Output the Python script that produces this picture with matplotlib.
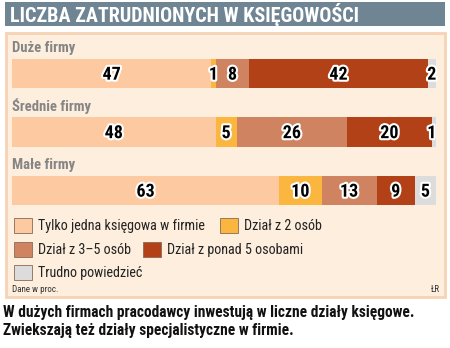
import matplotlib
matplotlib.use("Agg")
import matplotlib.pyplot as plt
import matplotlib.patheffects as pe
from matplotlib import font_manager
from matplotlib.patches import Rectangle

categories = ["Duże firmy", "Średnie firmy", "Małe firmy"]
series_names = [
    "Tylko jedna księgowa w firmie",
    "Dział z 2 osób",
    "Dział z 3–5 osób",
    "Dział z ponad 5 osobami",
    "Trudno powiedzieć",
]
values = [
    [47, 1, 8, 42, 2],
    [48, 5, 26, 20, 1],
    [63, 10, 13, 9, 5],
]
colors = ["#fcc9a0", "#fbb63f", "#cf8360", "#b24117", "#dcdcdc"]

title = "LICZBA ZATRUDNIONYCH W KSIĘGOWOŚCI"
note = "Dane w proc."
author = "ŁR"
caption = ["W dużych firmach pracodawcy inwestują w liczne działy księgowe.",
           "Zwiekszają też działy specjalistyczne w firmie."]

names = {f.name for f in font_manager.fontManager.ttflist}
font = "DejaVu Sans"
for cand in ["Liberation Sans Narrow", "Roboto Condensed", "Open Sans Condensed", "Noto Sans Condensed"]:
    if cand in names:
        font = cand
        break
plt.rcParams["font.family"] = [font, "DejaVu Sans"]

W, H = 450, 348
fig = plt.figure(figsize=(W / 100, H / 100), dpi=100)
fig.patch.set_facecolor("white")

# background: banner + panel, in pixel units
bg = fig.add_axes([0, 0, 1, 1])
bg.set_xlim(0, W)
bg.set_ylim(H, 0)
bg.axis("off")
bg.add_patch(Rectangle((5, 2), 440, 24, facecolor="#6f8594", edgecolor="none"))
bg.text(10, 15, title, color="white", fontsize=14.5, fontweight="bold", va="center", ha="left")
bg.add_patch(Rectangle((6, 33), 439, 264, facecolor="#fdeedd", edgecolor="#f6d3b5", linewidth=2))

# legend, flow layout like the original
legend_pos = [(14, 226), (220, 226), (14, 250), (143, 250), (14, 273)]
for (lx, ly), name, c in zip(legend_pos, series_names, colors):
    bg.add_patch(Rectangle((lx, ly - 8), 18, 15, facecolor=c, edgecolor="#8a6a55", linewidth=0.6))
    bg.text(lx + 24, ly, name, fontsize=10.2, color="#222222", va="center", ha="left")

bg.text(12, 290, note, fontsize=6.5, color="#333333", va="center")
bg.text(440, 290, author, fontsize=6.5, color="#333333", va="center", ha="right")
bg.text(3, 312, caption[0], fontsize=11.2, fontweight="bold", color="#111111", va="center")
bg.text(3, 331, caption[1], fontsize=11.2, fontweight="bold", color="#111111", va="center")

# bars
left_px, right_px, top_px, bot_px = 12, 436, 59, 205
ax = fig.add_axes([left_px / W, 1 - bot_px / H, (right_px - left_px) / W, (bot_px - top_px) / H])
ax.set_xlim(0, 100)
hb = 0.496
ax.set_ylim(2 + hb / 2, -hb / 2)
ax.axis("off")
ax.patch.set_alpha(0)

stroke = [pe.withStroke(linewidth=3, foreground="white")]
for i, row in enumerate(values):
    left = 0
    for j, v in enumerate(row):
        ax.barh(i, v, left=left, height=hb, color=colors[j], edgecolor="none")
        x = left + v / 2
        if v <= 2 and j == len(row) - 1:
            x = min(x, 99)
        ax.text(x, i + 0.02, str(v), ha="center", va="center", fontsize=13,
                fontweight="bold", color="black", path_effects=stroke)
        left += v
    ax.annotate(categories[i], (0, i - hb / 2), xytext=(0, 5), textcoords="offset points",
                fontsize=10.5, fontweight="bold", color="#858585", ha="left", va="baseline",
                annotation_clip=False)

fig.savefig("out.png", dpi=100)
